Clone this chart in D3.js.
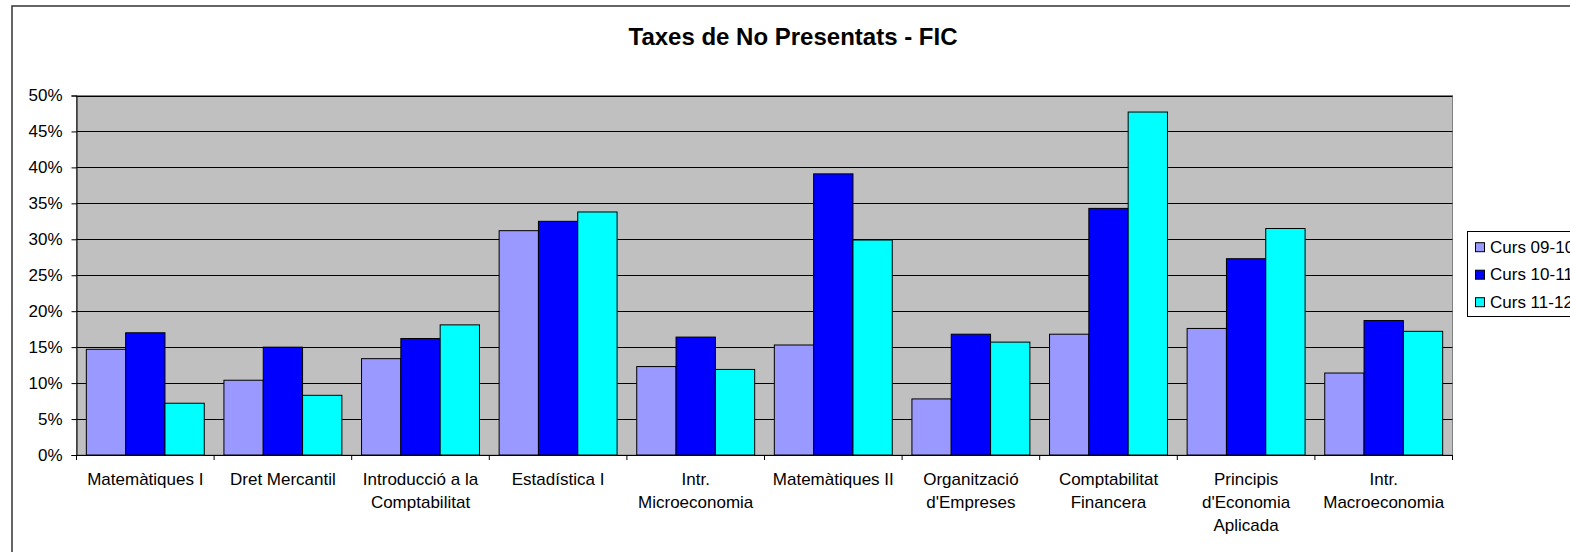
<!DOCTYPE html>
<html><head><meta charset="utf-8">
<script src="https://cdn.jsdelivr.net/npm/d3@7"></script>
<style>body{margin:0;background:#fff}svg{display:block}text{font-family:"Liberation Sans",Arial,sans-serif}</style>
</head><body>
<svg id="c" width="1570" height="552"></svg>
<script>
const categories = ["Matemàtiques I","Dret Mercantil","Introducció a la\nComptabilitat","Estadística I","Intr.\nMicroeconomia","Matemàtiques II","Organització\nd'Empreses","Comptabilitat\nFinancera","Principis\nd'Economia\nAplicada","Intr.\nMacroeconomia"];
const seriesNames = ["Curs 09-10","Curs 10-11","Curs 11-12"];
const curs0910 = [14.7,10.4,13.4,31.2,12.3,15.3,7.8,16.8,17.6,11.4];
const curs1011 = [17.0,15.0,16.2,32.5,16.4,39.1,16.8,34.3,27.3,18.7];
const curs1112 = [7.2,8.3,18.1,33.8,11.9,29.9,15.7,47.7,31.5,17.2];
const yTicks = [0,5,10,15,20,25,30,35,40,45,50];
const colors = ["#9999FF","#0000FF","#00FFFF"];
const series = [curs0910, curs1011, curs1112];

const FS = 17;
const svg = d3.select("#c");
const L = 76.5, R = 1452.5, T = 95.5, B = 455;
svg.append("rect").attr("x",12).attr("y",6).attr("width",1600).attr("height",560)
  .attr("fill","#fff").attr("stroke","#333").attr("stroke-width",1.5);
svg.append("text").attr("x",793).attr("y",45).attr("text-anchor","middle")
  .attr("font-size",24).attr("font-weight","bold").text("Taxes de No Presentats - FIC");

const x = d3.scaleBand().domain(categories).range([L,R]).paddingInner(0).paddingOuter(0);
const y = d3.scaleLinear().domain([0,50]).range([B,T]);
const inner = d3.scaleBand().domain(d3.range(3)).range([0,x.bandwidth()]).paddingInner(0).paddingOuter(0.25);

svg.append("rect").attr("x",L).attr("y",T).attr("width",R-L).attr("height",B-T).attr("fill","#C0C0C0").attr("stroke","#808080");
svg.append("g").selectAll("line").data(yTicks.filter(d=>d>0)).join("line")
  .attr("x1",L).attr("x2",R).attr("y1",d=>Math.round(y(d))+0.5).attr("y2",d=>Math.round(y(d))+0.5)
  .attr("stroke","#000").attr("stroke-width",1);

const g = svg.append("g");
series.forEach((vals,si)=>{
  g.selectAll(null).data(vals).join("rect")
    .attr("x",(d,i)=>x(categories[i])+inner(si))
    .attr("y",d=>y(d))
    .attr("width",inner.bandwidth())
    .attr("height",d=>B-y(d))
    .attr("fill",colors[si]).attr("stroke","#000").attr("stroke-width",1);
});

const ya = d3.axisLeft(y).tickValues(yTicks).tickFormat(d=>d+"%").tickSize(5).tickPadding(9);
const yg = svg.append("g").attr("transform",`translate(${L},0)`).call(ya);
yg.select(".domain").attr("stroke","#000");
yg.selectAll("text").attr("font-size",FS).attr("fill","#000").style("font-family","'Liberation Sans',Arial,sans-serif");
const xa = d3.axisBottom(x).tickSize(0).tickFormat("");
const xg = svg.append("g").attr("transform",`translate(0,${B})`).call(xa);
xg.select(".domain").attr("stroke","#000");
const tickPos = categories.map(c=>x(c)).concat([R]);
svg.append("g").selectAll("line").data(tickPos).join("line")
  .attr("x1",d=>d).attr("x2",d=>d).attr("y1",B).attr("y2",B+5).attr("stroke","#000");
const lab = svg.append("g");
categories.forEach(c=>{
  const lines = c.split("\n");
  const cx = x(c)+x.bandwidth()/2;
  const t = lab.append("text").attr("x",cx).attr("y",485).attr("text-anchor","middle").attr("font-size",FS).attr("fill","#000");
  lines.forEach((ln,i)=>t.append("tspan").attr("x",cx).attr("dy",i?22.8:0).text(ln));
});

const lg = svg.append("g");
lg.append("rect").attr("x",1467.5).attr("y",231.5).attr("width",140).attr("height",85).attr("fill","#fff").attr("stroke","#000");
seriesNames.forEach((s,i)=>{
  const yy = 246.7 + i*27.5;
  lg.append("rect").attr("x",1475.5).attr("y",yy-4).attr("width",9).attr("height",9).attr("fill",colors[i]).attr("stroke","#000");
  lg.append("text").attr("x",1490).attr("y",yy+6).attr("font-size",FS).text(s);
});
</script>
</body></html>
